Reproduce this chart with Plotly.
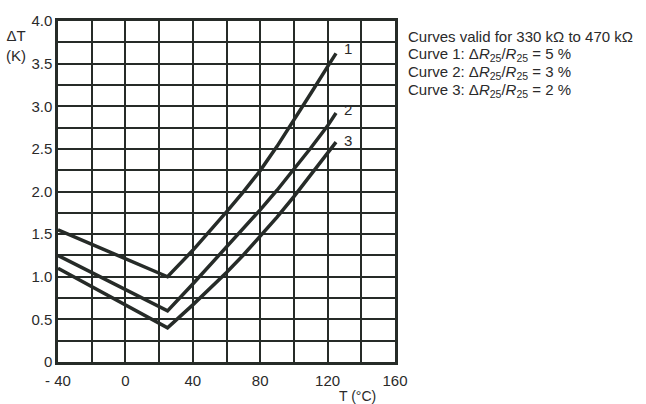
import plotly.graph_objects as go

# Data
T = [-40, 25, 40, 50, 60, 70, 80, 90, 100, 110, 120, 125]
dT1 = [1.55, 1.0, 1.31, 1.53, 1.76, 1.995, 2.245, 2.53, 2.835, 3.15, 3.465, 3.62]
dT2 = [1.25, 0.6, 0.915, 1.13, 1.345, 1.56, 1.785, 2.015, 2.26, 2.51, 2.77, 2.92]
dT3 = [1.10, 0.4, 0.67, 0.855, 1.05, 1.255, 1.47, 1.70, 1.94, 2.19, 2.445, 2.58]
curve_names = ["1", "2", "3"]
label_y = [3.68, 2.96, 2.6]

x_ticks = [-40, 0, 40, 80, 120, 160]
x_ticktext = ["- 40", "0", "40", "80", "120", "160"]
y_ticks = [0, 0.5, 1.0, 1.5, 2.0, 2.5, 3.0, 3.5, 4.0]
y_ticktext = ["0", "0.5", "1.0", "1.5", "2.0", "2.5", "3.0", "3.5", "4.0"]

notes = [
    "Curves valid for 330 kΩ to 470 kΩ",
    "Curve 1: Δ<i>R</i><sub>25</sub>/<i>R</i><sub>25</sub> = 5 %",
    "Curve 2: Δ<i>R</i><sub>25</sub>/<i>R</i><sub>25</sub> = 3 %",
    "Curve 3: Δ<i>R</i><sub>25</sub>/<i>R</i><sub>25</sub> = 2 %",
]

ink = "#262b28"
txt = "#2a2a2a"
fig = go.Figure()
for ys in [dT1, dT2, dT3]:
    fig.add_trace(go.Scatter(x=T, y=ys, mode="lines",
                             line=dict(color=ink, width=3.5),
                             showlegend=False, hoverinfo="skip"))

for name, ly in zip(curve_names, label_y):
    fig.add_annotation(x=128.5, y=ly, text=name, showarrow=False,
                       xanchor="left", yanchor="middle",
                       font=dict(size=15, color=txt))

for i, t in enumerate(notes):
    fig.add_annotation(xref="paper", yref="paper", x=1.033, y=0.954 - i * 0.053,
                       text=t, showarrow=False, xanchor="left", yanchor="middle",
                       font=dict(size=15, color=txt))

fig.add_annotation(xref="paper", yref="paper", x=-0.125, y=0.929,
                   text="ΔT<br>(K)", showarrow=False, xanchor="center",
                   yanchor="middle", align="center",
                   font=dict(size=15, color=txt))
fig.add_annotation(xref="paper", yref="paper", x=0.89, y=-0.099,
                   text="T (°C)", showarrow=False, xanchor="center",
                   yanchor="middle", font=dict(size=14, color=txt))

fig.update_xaxes(range=[-40, 160], tickvals=x_ticks, ticktext=x_ticktext,
                 showgrid=True, gridcolor=ink, gridwidth=2,
                 minor=dict(dtick=20, tick0=-40, showgrid=True, gridcolor=ink, gridwidth=2),
                 zeroline=False, showline=True, linecolor=ink, linewidth=2.5,
                 mirror=True, ticks="", ticklabelstandoff=3,
                 tickfont=dict(size=15, color=txt), fixedrange=True)
fig.update_yaxes(range=[0, 4], tickvals=y_ticks, ticktext=y_ticktext,
                 showgrid=True, gridcolor=ink, gridwidth=2,
                 minor=dict(dtick=0.25, tick0=0, showgrid=True, gridcolor=ink, gridwidth=2),
                 zeroline=False, showline=True, linecolor=ink, linewidth=2.5,
                 mirror=True, ticks="", tickfont=dict(size=15, color=txt),
                 fixedrange=True)

fig.update_layout(width=646, height=404,
                  margin=dict(l=58, r=251, t=17, b=42),
                  paper_bgcolor="white", plot_bgcolor="white",
                  font=dict(family="Liberation Sans, Arial, sans-serif"),
                  showlegend=False)

fig.write_html("out.html", config={"displayModeBar": False})
